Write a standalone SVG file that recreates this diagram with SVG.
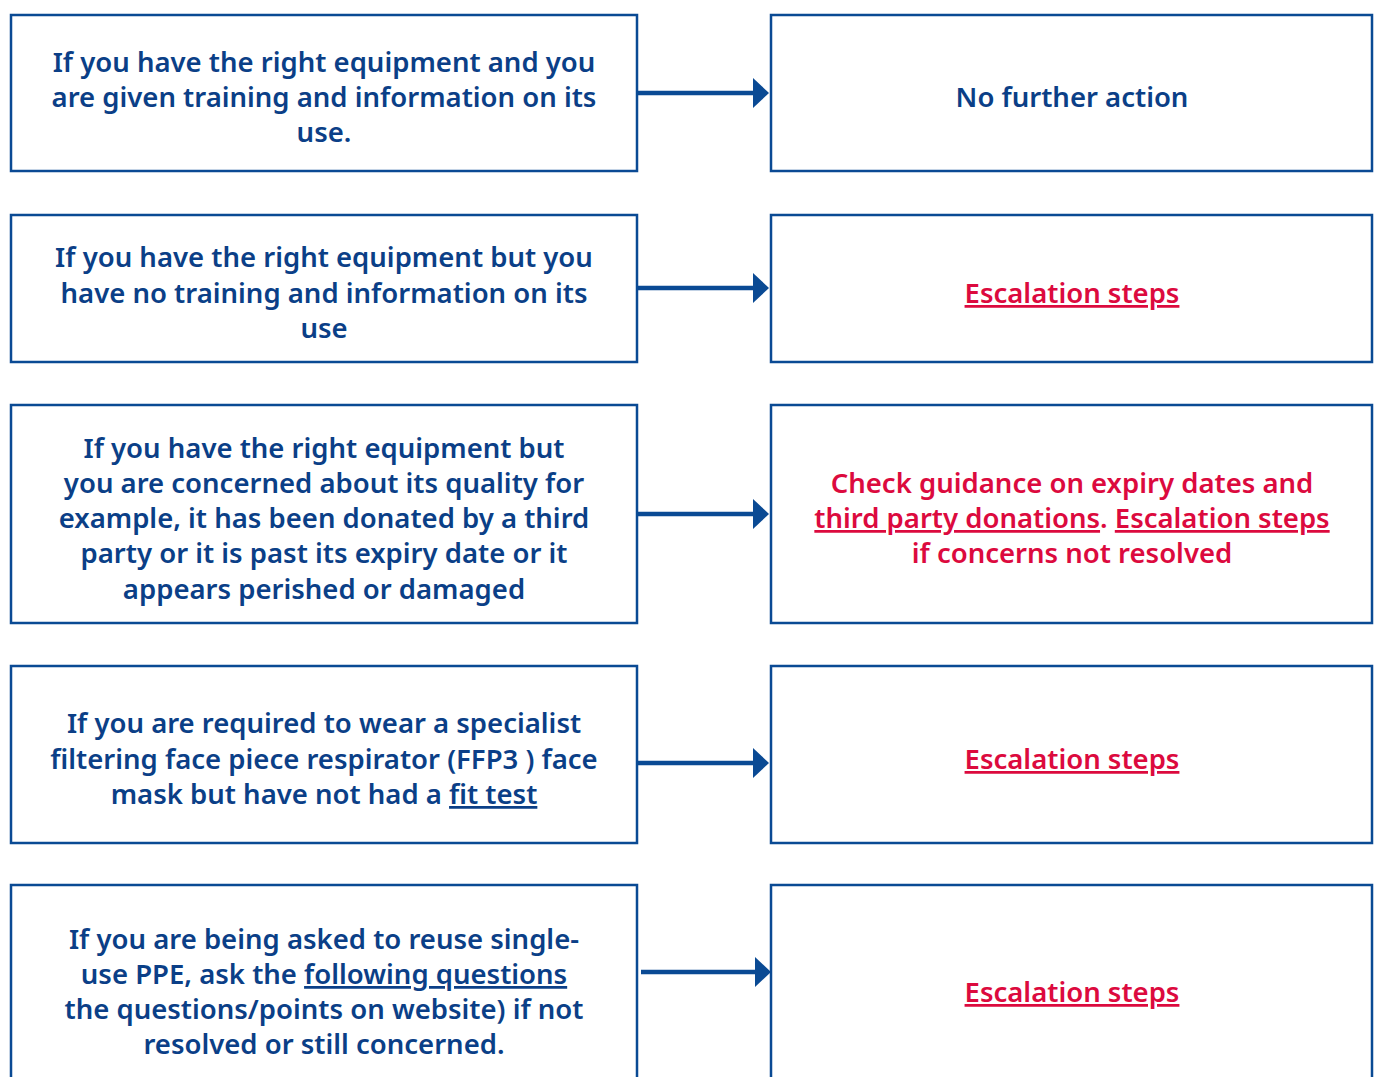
<svg xmlns="http://www.w3.org/2000/svg" width="1375" height="1077" viewBox="0 0 1375 1077">
<defs>
<style>
.box{fill:#fff;stroke:#0a4a94;stroke-width:2.5}
.t{font-family:"Noto Sans","Open Sans",sans-serif;font-size:27.5px;font-weight:600;fill:#0b3f87;text-anchor:middle}
.r{fill:#dc0a3e}
.u{text-decoration:underline}
.conn{stroke:#0a4a94;stroke-width:4.5;fill:none}
.head{fill:#0a4a94}
</style>
</defs>
<rect width="1375" height="1077" fill="#fff"/>
<g id="connectors">
<line class="conn" x1="638" y1="93" x2="756" y2="93"/><polygon class="head" points="753,78 769,93 753,108"/>
<line class="conn" x1="638" y1="288" x2="756" y2="288"/><polygon class="head" points="753,273 769,288 753,303"/>
<line class="conn" x1="638" y1="514" x2="756" y2="514"/><polygon class="head" points="753,499 769,514 753,529"/>
<line class="conn" x1="638" y1="763" x2="756" y2="763"/><polygon class="head" points="753,748 769,763 753,778"/>
<line class="conn" x1="641" y1="972" x2="758" y2="972"/><polygon class="head" points="755,957 771,972 755,987"/>
</g>
<g id="n1"><rect class="box" x="11" y="15" width="626" height="156"/>
<text class="t"><tspan x="324" y="72">If you have the right equipment and you</tspan><tspan x="324" y="107">are given training and information on its</tspan><tspan x="324" y="142">use.</tspan></text></g>
<g id="n2"><rect class="box" x="771" y="15" width="601" height="156"/>
<text class="t" x="1072" y="107">No further action</text></g>
<g id="n3"><rect class="box" x="11" y="215" width="626" height="147"/>
<text class="t"><tspan x="324" y="267">If you have the right equipment but you</tspan><tspan x="324" y="303">have no training and information on its</tspan><tspan x="324" y="338">use</tspan></text></g>
<g id="n4"><rect class="box" x="771" y="215" width="601" height="147"/>
<text class="t r u" x="1072" y="303">Escalation steps</text></g>
<g id="n5"><rect class="box" x="11" y="405" width="626" height="218"/>
<text class="t"><tspan x="324" y="458">If you have the right equipment but</tspan><tspan x="324" y="493">you are concerned about its quality for</tspan><tspan x="324" y="528">example, it has been donated by a third</tspan><tspan x="324" y="563">party or it is past its expiry date or it</tspan><tspan x="324" y="599">appears  perished or damaged</tspan></text></g>
<g id="n6"><rect class="box" x="771" y="405" width="601" height="218"/>
<text class="t r"><tspan x="1072" y="493">Check guidance on expiry dates and</tspan><tspan x="1072" y="528"><tspan class="u">third party donations</tspan>. <tspan class="u">Escalation steps</tspan></tspan><tspan x="1072" y="563">if concerns not resolved</tspan></text></g>
<g id="n7"><rect class="box" x="11" y="666" width="626" height="177"/>
<text class="t"><tspan x="324" y="733">If you are required to wear a specialist</tspan><tspan x="324" y="769">filtering face piece respirator (FFP3 ) face</tspan><tspan x="324" y="804">mask but have not had a <tspan class="u">fit test</tspan></tspan></text></g>
<g id="n8"><rect class="box" x="771" y="666" width="601" height="177"/>
<text class="t r u" x="1072" y="769">Escalation steps</text></g>
<g id="n9"><rect class="box" x="11" y="885" width="626" height="200"/>
<text class="t"><tspan x="324" y="949">If you are being asked to reuse single-</tspan><tspan x="324" y="984">use PPE, ask the <tspan class="u">following questions</tspan></tspan><tspan x="324" y="1019">the questions/points on website) if not</tspan><tspan x="324" y="1054">resolved or still concerned.</tspan></text></g>
<g id="n10"><rect class="box" x="771" y="885" width="601" height="200"/>
<text class="t r u" x="1072" y="1002">Escalation steps</text></g>
</svg>
